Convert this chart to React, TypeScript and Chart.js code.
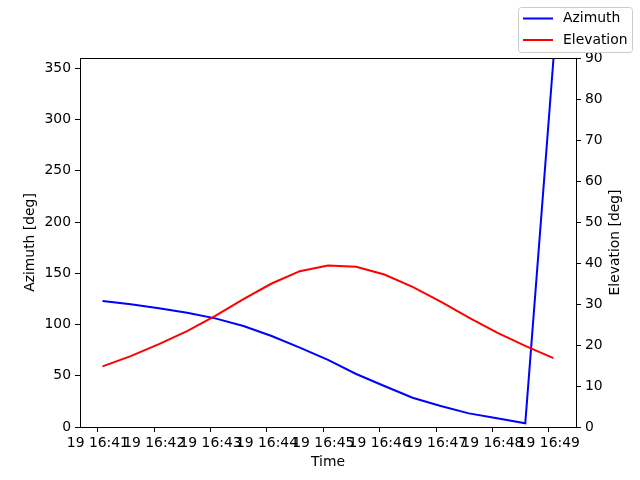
import React, { useEffect, useRef } from "react";
import { Chart, registerables } from "chart.js";

Chart.register(...registerables);

// seconds after 19 16:41:00
const timesSec = [5, 35, 65, 95, 125, 155, 185, 215, 245, 275, 305, 335, 365, 395, 425, 455, 485];
const azimuth = [122.9, 119.7, 115.8, 111.5, 106, 98.5, 88.8, 77.4, 65.5, 51.7, 40, 28.6, 20.5, 13.3, 8.5, 3.6, 359];
const elevation = [14.8, 17.3, 20.2, 23.4, 27.1, 31.2, 35.0, 38.0, 39.4, 39.1, 37.2, 34.2, 30.6, 26.7, 23.0, 19.8, 16.8];
const xTickSec = [0, 60, 120, 180, 240, 300, 360, 420, 480];
const xTickLabels = ["19 16:41", "19 16:42", "19 16:43", "19 16:44", "19 16:45", "19 16:46", "19 16:47", "19 16:48", "19 16:49"];
const azTicks = [0, 50, 100, 150, 200, 250, 300, 350];
const elTicks = [0, 10, 20, 30, 40, 50, 60, 70, 80, 90];
const seriesNames = ["Azimuth", "Elevation"];
const seriesColors = ["#0000ff", "#ff0000"];
const rightTitle = "Elevation [deg]";

const FONT = "'DejaVu Sans', sans-serif";
const FS = 13.9;

const legendPlugin = {
  id: "mplLegend",
  afterDraw(chart: any) {
    const ctx = chart.ctx;
    const ca = chart.chartArea;
    // top spine
    ctx.save();
    ctx.strokeStyle = "#000";
    ctx.lineWidth = 1;
    ctx.beginPath();
    ctx.moveTo(ca.left, Math.round(ca.top) + 0.5);
    ctx.lineTo(ca.right, Math.round(ca.top) + 0.5);
    ctx.stroke();
    ctx.restore();

    // right axis title, reading bottom-to-top
    ctx.save();
    ctx.font = `${FS}px ${FONT}`;
    ctx.fillStyle = "#000";
    ctx.textAlign = "center";
    ctx.textBaseline = "middle";
    ctx.translate(615, (ca.top + ca.bottom) / 2);
    ctx.rotate(-Math.PI / 2);
    ctx.fillText(rightTitle, 0, 0);
    ctx.restore();

    const x0 = 518.5, y0 = 7.5, w = 114, h = 45, r = 3;
    ctx.save();
    ctx.beginPath();
    ctx.moveTo(x0 + r, y0);
    ctx.lineTo(x0 + w - r, y0);
    ctx.quadraticCurveTo(x0 + w, y0, x0 + w, y0 + r);
    ctx.lineTo(x0 + w, y0 + h - r);
    ctx.quadraticCurveTo(x0 + w, y0 + h, x0 + w - r, y0 + h);
    ctx.lineTo(x0 + r, y0 + h);
    ctx.quadraticCurveTo(x0, y0 + h, x0, y0 + h - r);
    ctx.lineTo(x0, y0 + r);
    ctx.quadraticCurveTo(x0, y0, x0 + r, y0);
    ctx.closePath();
    ctx.fillStyle = "rgba(255,255,255,0.8)";
    ctx.fill();
    ctx.strokeStyle = "#cccccc";
    ctx.lineWidth = 1;
    ctx.stroke();
    ctx.font = `${FS}px ${FONT}`;
    ctx.textBaseline = "middle";
    ctx.textAlign = "left";
    chart.data.datasets.forEach((ds: any, i: number) => {
      const y = 18.5 + i * 21.5;
      ctx.beginPath();
      ctx.moveTo(523, y);
      ctx.lineTo(553, y);
      ctx.strokeStyle = ds.borderColor;
      ctx.lineWidth = 2;
      ctx.stroke();
      ctx.fillStyle = "#000";
      ctx.fillText(ds.label, 563, y);
    });
    ctx.restore();
  },
};

export default function App() {
  const ref = useRef<HTMLCanvasElement>(null);
  useEffect(() => {
    if (!ref.current) return;
    const tickFont = { family: FONT, size: FS };
    const chart = new Chart(ref.current, {
      type: "line",
      data: {
        datasets: [
          {
            label: seriesNames[0],
            data: timesSec.map((t, i) => ({ x: t, y: azimuth[i] })),
            borderColor: seriesColors[0],
            backgroundColor: seriesColors[0],
            borderWidth: 2,
            pointRadius: 0,
            tension: 0,
            yAxisID: "y",
            order: 1,
          },
          {
            label: seriesNames[1],
            data: timesSec.map((t, i) => ({ x: t, y: elevation[i] })),
            borderColor: seriesColors[1],
            backgroundColor: seriesColors[1],
            borderWidth: 2,
            pointRadius: 0,
            tension: 0,
            yAxisID: "y2",
            order: 0,
          },
        ],
      },
      options: {
        responsive: false,
        animation: false,
        devicePixelRatio: 1,
        layout: { padding: { top: 58, left: 0, right: 0, bottom: 0 } },
        plugins: { legend: { display: false }, tooltip: { enabled: false } },
        scales: {
          x: {
            type: "linear",
            min: -19,
            max: 509,
            afterBuildTicks: (s: any) => {
              s.ticks = xTickSec.map((v) => ({ value: v }));
            },
            afterFit: (s: any) => {
              s.height = 53;
            },
            ticks: {
              autoSkip: false,
              maxRotation: 0,
              minRotation: 0,
              padding: 3,
              color: "#000",
              font: tickFont,
              callback: (v: any) => {
                const idx = xTickSec.indexOf(Number(v));
                return idx >= 0 ? xTickLabels[idx] : "";
              },
            },
            grid: { drawOnChartArea: false, drawTicks: true, tickLength: 5, color: "#000" },
            border: { display: true, color: "#000", width: 1 },
            title: { display: true, text: "Time", color: "#000", font: tickFont, padding: { top: 0, bottom: 9.7 } },
          },
          y: {
            type: "linear",
            position: "left",
            min: 0,
            max: 360,
            afterBuildTicks: (s: any) => {
              s.ticks = azTicks.map((v) => ({ value: v }));
            },
            afterFit: (s: any) => {
              s.width = 80;
            },
            ticks: { autoSkip: false, padding: 4, color: "#000", font: tickFont },
            grid: { drawOnChartArea: false, drawTicks: true, tickLength: 5, color: "#000" },
            border: { display: true, color: "#000", width: 1 },
            title: { display: true, text: "Azimuth [deg]", color: "#000", font: tickFont, padding: { top: 21.7, bottom: 0 } },
          },
          y2: {
            type: "linear",
            position: "right",
            min: 0,
            max: 90,
            afterBuildTicks: (s: any) => {
              s.ticks = elTicks.map((v) => ({ value: v }));
            },
            afterFit: (s: any) => {
              s.width = 64;
            },
            ticks: { autoSkip: false, padding: 4, color: "#000", font: tickFont },
            grid: { drawOnChartArea: false, drawTicks: true, tickLength: 5, color: "#000" },
            border: { display: true, color: "#000", width: 1 },
            title: { display: false },
          },
        },
      },
      plugins: [legendPlugin],
    } as any);
    return () => chart.destroy();
  }, []);
  return (
    <div style={{ position: "fixed", left: 0, top: 0, width: 640, height: 480, background: "#fff" }}>
      <canvas ref={ref} width={640} height={480} style={{ width: 640, height: 480 }} />
    </div>
  );
}
